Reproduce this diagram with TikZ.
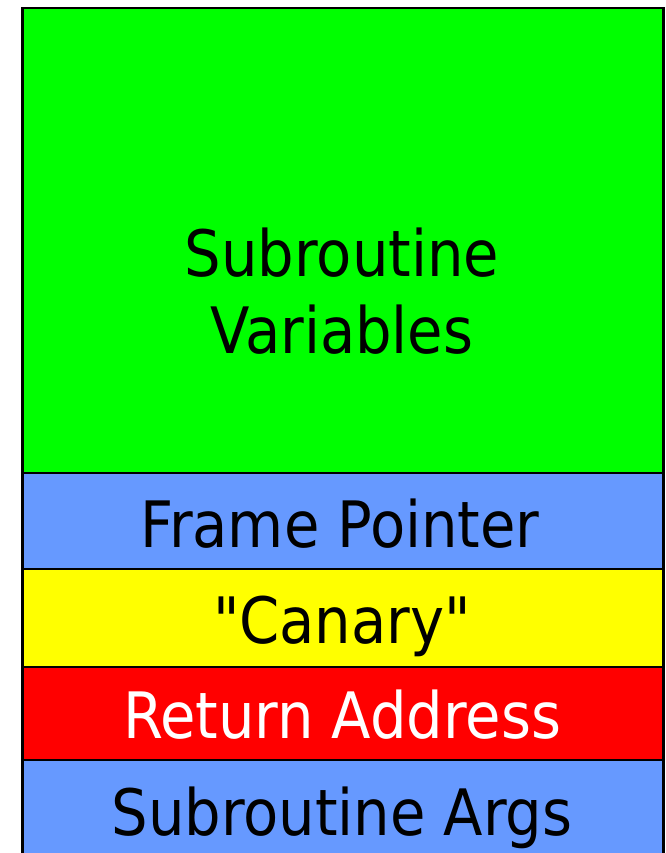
\documentclass[tikz,border=0pt]{standalone}
\usepackage{fontspec}
\setmainfont{DejaVu Sans Condensed}[Ligatures=TeXOff]
\definecolor{vargreen}{HTML}{00FF00}
\definecolor{ptrblue}{HTML}{6699FF}
\definecolor{canyellow}{HTML}{FFFF00}
\definecolor{retred}{HTML}{FF0000}
\begin{document}
\begin{tikzpicture}[x=1pt,y=-1pt,
  band/.style={draw=black, line width=1.5pt, inner sep=0pt, anchor=north west,
    minimum width=640pt},
  bandtext/.style={anchor=base, inner sep=0pt, font=\fontsize{64}{77}\selectfont}]
\useasboundingbox (0,0) rectangle (665,853);
\clip (0,0) rectangle (665,853);
% stack frame bands, top to bottom
\node[band, fill=vargreen,  minimum height=464pt] (vars) at (22,8)   {};
\node[band, fill=ptrblue,   minimum height=96pt]  (fp)   at (22,472) {};
\node[band, fill=canyellow, minimum height=98pt]  (can)  at (22,568) {};
\node[band, fill=retred,    minimum height=93pt]  (ret)  at (22,666) {};
\node[band, fill=ptrblue,   minimum height=110pt] (args) at (22,759) {};
% outer frame
\draw[line width=2.5pt] (vars.south west |- args.south) -- (vars.north west)
  -- (vars.north east) -- (vars.north east |- args.south);
% labels
\node[bandtext] (t1) at (342,276) {Subroutine};
\node[bandtext] (t2) at (342,353) {Variables};
\node[bandtext] (t3) at (340,547) {Frame Pointer};
\node[bandtext] (t4) at (342,643) {"Canary"};
\node[bandtext, text=white] (t5) at (342,738) {Return Address};
\node[bandtext] (t6) at (342,835) {Subroutine Args};
\end{tikzpicture}
\end{document}
